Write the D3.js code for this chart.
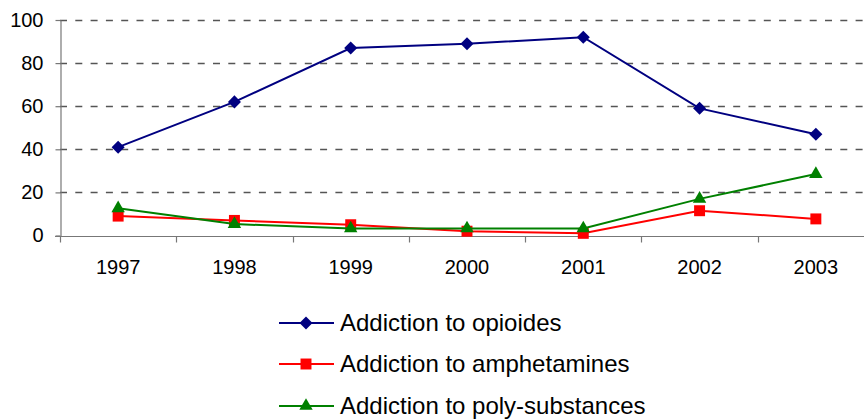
<!DOCTYPE html>
<html>
<head>
<meta charset="utf-8">
<script src="https://cdn.jsdelivr.net/npm/d3@7"></script>
<style>
  html, body { margin: 0; padding: 0; background: #fff; }
  svg { display: block; font-family: "Liberation Sans", Arial, sans-serif; }
</style>
</head>
<body>
<svg id="chart" width="864" height="419"></svg>
<script>
// Patients by type of addiction, 1997–2003
const years = ["1997", "1998", "1999", "2000", "2001", "2002", "2003"];
const opioides = [41, 62, 87, 89, 92, 59, 47];
const amphetamines = [9, 7, 5, 2, 1, 11.5, 7.7];
const polySubstances = [12.6, 5.3, 3.3, 3.3, 3.3, 17, 28.5];
const yTicks = [0, 20, 40, 60, 80, 100];

// square rotated 45°, equal width and height
const symbolRhombus = {
  draw(context, size) {
    const r = Math.sqrt(size / 2);
    context.moveTo(0, -r);
    context.lineTo(r, 0);
    context.lineTo(0, r);
    context.lineTo(-r, 0);
    context.closePath();
  }
};

const seriesNames = ["Addiction to opioides", "Addiction to amphetamines", "Addiction to poly-substances"];
const seriesColors = ["#000080", "#FF0000", "#008000"];
const seriesShapes = [symbolRhombus, d3.symbolSquare, d3.symbolTriangle];
const seriesSizes = [85, 120, 78];

const series = [opioides, amphetamines, polySubstances].map((vals, i) => ({
  name: seriesNames[i], color: seriesColors[i], shape: seriesShapes[i], size: seriesSizes[i], values: vals
}));

const svg = d3.select("#chart");
const plotLeft = 60, plotRight = 874, plotTop = 20, plotBottom = 235.5;

const x = d3.scaleBand().domain(years).range([plotLeft, plotRight]).padding(0);
const y = d3.scaleLinear().domain([0, 100]).range([plotBottom, plotTop]);
const cx = d => x(d) + x.bandwidth() / 2;

// dashed gridlines
svg.append("g").selectAll("line")
  .data(yTicks.filter(t => t > 0))
  .join("line")
  .attr("x1", plotLeft).attr("x2", plotRight)
  .attr("y1", d => Math.round(y(d)) + 0.5).attr("y2", d => Math.round(y(d)) + 0.5)
  .attr("stroke", "#555").attr("stroke-width", 1.3)
  .attr("stroke-dasharray", "7,8.3");

// y axis
const yAxis = svg.append("g")
  .attr("transform", `translate(${plotLeft + 0.5},0)`)
  .call(d3.axisLeft(y).tickValues(yTicks).tickSize(5).tickPadding(12).tickSizeOuter(0));
yAxis.select(".domain").attr("stroke", "#777").attr("stroke-width", 1.2);
yAxis.selectAll(".tick line").attr("stroke", "#777").attr("stroke-width", 1.2);
yAxis.selectAll(".tick text").attr("font-size", 20).attr("fill", "#000");

// x axis with category boundary ticks
const xAxis = svg.append("g")
  .attr("transform", `translate(0,${Math.round(plotBottom) + 0.5})`);
xAxis.append("line")
  .attr("x1", plotLeft - 5).attr("x2", plotRight)
  .attr("stroke", "#777").attr("stroke-width", 1.2);
xAxis.selectAll("line.tk")
  .data(d3.range(years.length + 1))
  .join("line").attr("class", "tk")
  .attr("x1", i => Math.round(plotLeft + i * x.bandwidth()) + 0.5)
  .attr("x2", i => Math.round(plotLeft + i * x.bandwidth()) + 0.5)
  .attr("y1", 0).attr("y2", 6)
  .attr("stroke", "#777").attr("stroke-width", 1.2);
xAxis.selectAll("text")
  .data(years)
  .join("text")
  .attr("x", d => cx(d))
  .attr("y", 37)
  .attr("text-anchor", "middle")
  .attr("font-size", 20)
  .attr("fill", "#000")
  .text(d => d);

// series lines and markers
const line = d3.line().x((v, i) => cx(years[i])).y(v => y(v));
series.forEach(s => {
  const g = svg.append("g");
  g.append("path")
    .attr("d", line(s.values))
    .attr("fill", "none")
    .attr("stroke", s.color)
    .attr("stroke-width", 2);
  g.selectAll("path.m")
    .data(s.values)
    .join("path").attr("class", "m")
    .attr("transform", (v, i) => `translate(${cx(years[i])},${y(v)})`)
    .attr("d", d3.symbol().type(s.shape).size(s.size))
    .attr("fill", s.color);
});

// legend
const legend = svg.append("g");
const legendRows = [323, 364, 406];
series.forEach((s, i) => {
  const row = legend.append("g").attr("transform", `translate(0,${legendRows[i]})`);
  row.append("line")
    .attr("x1", 279).attr("x2", 334)
    .attr("stroke", s.color).attr("stroke-width", 2);
  row.append("path")
    .attr("transform", "translate(306,0)")
    .attr("d", d3.symbol().type(s.shape).size(s.size))
    .attr("fill", s.color);
  row.append("text")
    .attr("x", 340).attr("y", 0)
    .attr("dy", "0.35em")
    .attr("font-size", 24)
    .attr("fill", "#000")
    .text(s.name);
});
</script>
</body>
</html>
